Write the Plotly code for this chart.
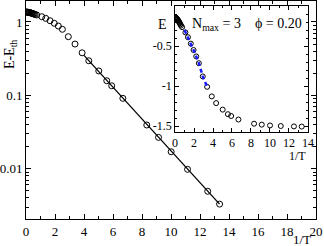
import plotly.graph_objects as go

# ---- data ----
dense_x = [0.02, 0.06, 0.10, 0.14, 0.18, 0.22, 0.26, 0.30, 0.35, 0.40, 0.45, 0.50, 0.56, 0.63]
dense_y = [1.37, 1.365, 1.36, 1.355, 1.35, 1.345, 1.34, 1.335, 1.325, 1.315, 1.305, 1.295, 1.28, 1.265]

inv_t = [0.74, 1.09, 1.36, 1.66, 1.95, 2.23, 2.51, 2.92, 3.38, 3.87, 4.33, 5.02, 5.57, 5.91,
         6.68, 8.33, 9.14, 10.01, 11.14, 12.53, 13.35]
e_minus_eth = [1.246, 1.18, 1.12, 1.04, 0.96, 0.88, 0.795, 0.63, 0.50, 0.38, 0.296, 0.215,
               0.158, 0.135, 0.091, 0.0394, 0.0267, 0.0170, 0.0098, 0.00492, 0.00329]

fit_x = [4.0, 13.35]
fit_y = [0.350, 0.00329]

inset_dense_e = [-0.14, -0.145, -0.15, -0.155, -0.16, -0.165, -0.17, -0.175, -0.185,
                 -0.195, -0.205, -0.215, -0.23, -0.245]
inset_e = [-0.264, -0.33, -0.39, -0.47, -0.55, -0.63, -0.715, -0.88, -1.01, -1.13, -1.214,
           -1.295, -1.352, -1.375, -1.419, -1.471, -1.483, -1.493, -1.50, -1.505, -1.507]

blue_x = [1.0, 1.36, 1.66, 1.95, 2.23, 2.51, 2.92, 3.38]
blue_e = [-0.30, -0.39, -0.47, -0.55, -0.63, -0.715, -0.88, -1.01]

x_ticks = [0, 2, 4, 6, 8, 10, 12, 14, 16, 18, 20]
y_ticks = [0.01, 0.1, 1]
y_tick_text = ["0.01", "0.1", "1"]
inset_x_ticks = [0, 2, 4, 6, 8, 10, 12, 14]
inset_y_ticks = [-1.5, -1, -0.5]
inset_y_text = ["-1.5", "-1", "-0.5"]

FONT = "Liberation Serif"

fig = go.Figure()

circ = dict(symbol="circle-open", size=6, color="black", line=dict(width=1, color="black"))
fig.add_trace(go.Scatter(x=dense_x, y=dense_y, mode="markers", marker=circ,
                         xaxis="x", yaxis="y", showlegend=False))
fig.add_trace(go.Scatter(x=inv_t, y=e_minus_eth, mode="markers", marker=circ,
                         xaxis="x", yaxis="y", showlegend=False))
fig.add_trace(go.Scatter(x=fit_x, y=fit_y, mode="lines", line=dict(color="black", width=1.3),
                         xaxis="x", yaxis="y", showlegend=False))

circ2 = dict(symbol="circle-open", size=5, color="black", line=dict(width=1, color="black"))
fig.add_trace(go.Scatter(x=dense_x, y=inset_dense_e, mode="markers", marker=circ2,
                         xaxis="x2", yaxis="y2", showlegend=False))
fig.add_trace(go.Scatter(x=inv_t, y=inset_e, mode="markers", marker=circ2,
                         xaxis="x2", yaxis="y2", showlegend=False))
fig.add_trace(go.Scatter(x=blue_x, y=blue_e, mode="lines",
                         line=dict(color="#1a1aff", width=2.5, dash="4px,3px"),
                         xaxis="x2", yaxis="y2", showlegend=False))

axis_common = dict(showline=True, linecolor="black", linewidth=1, mirror="allticks",
                   ticks="inside", tickcolor="black", showgrid=False, zeroline=False,
                   automargin=False, ticklabeloverflow="allow")

fig.update_layout(
    width=324, height=246,
    margin=dict(l=26, r=8, t=1, b=27),
    paper_bgcolor="white", plot_bgcolor="white",
    font=dict(family=FONT, color="black", size=13),
    xaxis=dict(**axis_common, range=[0, 20], tickvals=x_ticks, ticklen=5,
               minor=dict(dtick=1, ticks="inside", ticklen=3, tickcolor="black"),
               tickfont=dict(size=13, family=FONT), domain=[0, 1]),
    yaxis=dict(**axis_common, type="log", range=[-2.686, 0.286], tickvals=y_ticks,
               ticktext=y_tick_text, ticklen=5,
               minor=dict(dtick="D1", ticks="inside", ticklen=3, tickcolor="black"),
               tickfont=dict(size=13, family=FONT), domain=[0, 1]),
    xaxis2=dict(**axis_common, range=[0, 14], tickvals=inset_x_ticks, ticklen=4,
                minor=dict(dtick=1, ticks="inside", ticklen=2, tickcolor="black"),
                tickfont=dict(size=12, family=FONT), domain=[0.514, 0.972],
                anchor="y2"),
    yaxis2=dict(**axis_common, range=[-1.575, 0], tickvals=inset_y_ticks,
                ticktext=inset_y_text, ticklen=4,
                minor=dict(dtick=0.1, ticks="inside", ticklen=2, tickcolor="black"),
                tickfont=dict(size=12, family=FONT), domain=[0.399, 0.977],
                anchor="x2"),
)

fig.add_annotation(text="E-E<sub>th</sub>", xref="paper", yref="paper", x=-0.055, y=0.752,
                   textangle=-90, showarrow=False, font=dict(size=14, family=FONT),
                   xanchor="center", yanchor="middle")
fig.add_annotation(text="1/T", xref="paper", yref="paper", x=0.952, y=-0.096,
                   showarrow=False, font=dict(size=13, family=FONT),
                   xanchor="center", yanchor="middle")
fig.add_annotation(text="E", xref="paper", yref="paper", x=0.472, y=0.89,
                   showarrow=False, font=dict(size=14, family=FONT),
                   xanchor="center", yanchor="middle")
fig.add_annotation(text="1/T", xref="paper", yref="paper", x=0.935, y=0.288,
                   showarrow=False, font=dict(size=12, family=FONT),
                   xanchor="center", yanchor="middle")
fig.add_annotation(text="N<sub>max</sub> = 3    \u03d5 = 0.20", xref="paper", yref="paper",
                   x=0.96, y=0.89, showarrow=False, font=dict(size=14, family=FONT),
                   xanchor="right", yanchor="middle")

fig.write_html("out.html",
               config={"displayModeBar": False},
               post_script="document.body.style.margin='0';document.body.style.padding='0';")
